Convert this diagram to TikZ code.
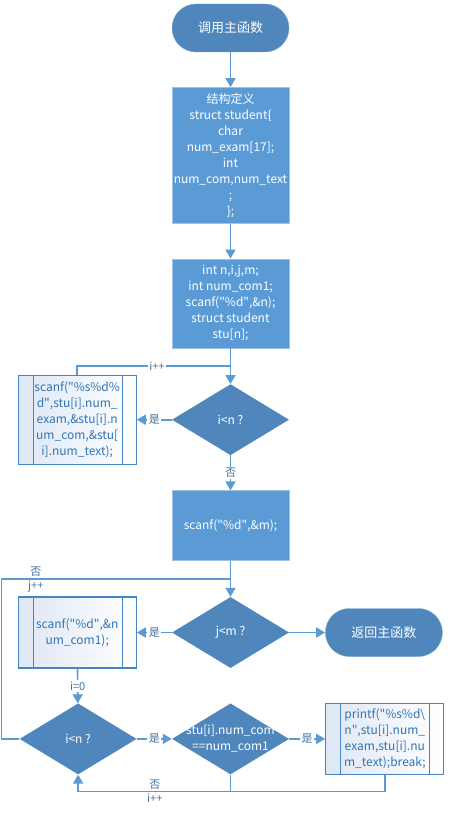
\documentclass[tikz,border=0pt]{standalone}
\usepackage{fontspec}
\setmainfont{Noto Sans CJK SC}
\usepackage{tikz}
\usetikzlibrary{shapes.geometric, arrows.meta, positioning, calc}
\definecolor{boxfill}{RGB}{91,155,213}
\definecolor{darkfill}{RGB}{79,135,189}
\definecolor{linecol}{RGB}{91,155,213}
\definecolor{subline}{RGB}{70,132,196}
\definecolor{subtext}{RGB}{46,117,182}
\definecolor{subfill}{RGB}{222,231,245}
\definecolor{lbltext}{RGB}{65,113,156}
\newcommand{\qt}{\textquotedbl}

\begin{document}
\begin{tikzpicture}[
    node distance=35pt,
    term/.style={rectangle, draw=darkfill!75!white, fill=darkfill, rounded corners=24pt, minimum width=117pt, minimum height=48pt, text=white, font=\fontsize{13}{16}\selectfont},
    box/.style={rectangle, draw=boxfill!60!white, fill=boxfill, minimum width=117pt, inner sep=2pt, align=center, text=white, font=\fontsize{12}{16}\selectfont},
    decision/.style={diamond, fill=darkfill, minimum width=117pt, minimum height=71pt, inner sep=0pt, align=center, text=white, font=\fontsize{12}{16}\selectfont},
    dtext/.style={align=center, text=white, font=\fontsize{12}{16}\selectfont},
    subproc/.style={rectangle, draw=subline, line width=1.2pt, left color=subfill, right color=white, minimum width=118pt, align=center, text=subtext, font=\fontsize{12}{16}\selectfont,
        path picture={\draw[subline, line width=1.2pt] ([xshift=15pt]path picture bounding box.north west) -- ([xshift=15pt]path picture bounding box.south west) ([xshift=-14pt]path picture bounding box.north east) -- ([xshift=-14pt]path picture bounding box.south east);}},
    lbl/.style={text=lbltext, font=\fontsize{11}{13}\selectfont, inner sep=1.5pt},
    line/.style={draw=linecol, line width=1.6pt},
    arrow/.style={line, -{Triangle[width=10pt, length=9pt]}}
]
    \useasboundingbox (0,0) rectangle (449pt,-813pt);
    \node[term] (start) at (230.5pt,-28pt) {调用主函数};
    \node[box, below=of start, minimum height=136pt] (def) {结构定义\\struct student\{\\char\\num\_exam[17];\\int\\num\_com,num\_text\\;\\\};};
    \node[box, below=of def, minimum height=89pt] (var) {int n,i,j,m;\\int num\_com1;\\scanf(\qt\%d\qt,\&n);\\struct student\\stu[n];};
    \node[decision, below=36pt of var] (chki) {i<n ?};
    \node[subproc, left=of chki, minimum height=89pt] (readstu) {scanf(\qt\%s\%d\%\\d\qt,stu[i].num\_\\exam,\&stu[i].n\\um\_com,\&stu[\\i].num\_text);};
    \node[box, below=of chki, minimum height=70pt] (readm) {scanf(\qt\%d\qt,\&m);};
    \node[decision, below=36pt of readm] (chkj) {j<m ?};
    \node[subproc, left=of chkj, minimum height=71pt] (readnum) {scanf(\qt\%d\qt,\&n\\um\_com1);};
    \node[term, right=36pt of chkj] (stop) {返回主函数};
    \node[decision, below=of chkj, label={[dtext]center:{stu[i].num\_com\\==num\_com1}}] (match) {};
    \node[decision, left=of match] (chkn) {i<n ?};
    \node[subproc, right=36pt of match, minimum height=71pt] (print) {printf(\qt\%s\%d\textbackslash\\n\qt,stu[i].num\_\\exam,stu[i].nu\\m\_text);break;};

    \coordinate (loopi) at ($(var.south)!0.5!(chki.north)$);
    \coordinate (loopj) at ($(readm.south)!0.5!(chkj.north)$);
    \coordinate (back) at ($(chkn.south)+(0,-17pt)$);

    \draw[arrow] (start) -- (def);
    \draw[arrow] (def) -- (var);
    \draw[arrow] (var) -- (chki);
    \draw[line] (readstu.north) |- node[lbl, fill=white, pos=0.76] {i++} (loopi);
    \draw[arrow] (chki) -- node[lbl, fill=white] {是} (readstu);
    \draw[arrow] (chki) -- node[lbl, fill=white] {否} (readm);
    \draw[arrow] (readm) -- (chkj);
    \draw[line] (chkn.west) -- ++(-18pt,0) |- node[lbl, above, pos=0.575] {否} node[lbl, below, pos=0.575] {j++} (loopj);
    \draw[arrow] (chkj) -- node[lbl, fill=white] {是} (readnum);
    \draw[arrow] (chkj) -- (stop);
    \draw[arrow] (readnum) -- node[lbl, fill=white] {i=0} (chkn);
    \draw[arrow] (chkn) -- node[lbl, fill=white] {是} (match);
    \draw[arrow] (match) -- node[lbl, fill=white] {是} (print);
    \draw[arrow] (print.south) |- node[lbl, above, pos=0.875] {否} node[lbl, below, pos=0.875] {i++} (back) -- (chkn);
    \draw[line] (match) -- (match |- back);
\end{tikzpicture}
\end{document}
